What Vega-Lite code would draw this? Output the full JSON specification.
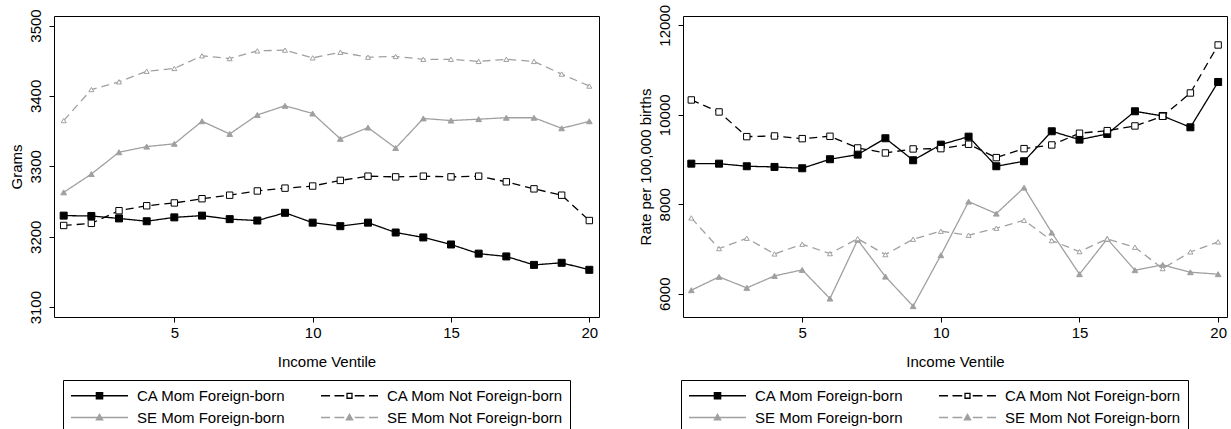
{
  "$schema": "https://vega.github.io/schema/vega-lite/v6.json",
  "padding": {"left": 8, "top": 3, "right": 4, "bottom": 0},
  "background": "white",
  "config": {
    "font": "Liberation Sans",
    "view": {"stroke": "#000", "strokeWidth": 1},
    "axis": {"labelFont": "Liberation Sans", "titleFont": "Liberation Sans", "labelFontSize": 15, "titleFontSize": 15, "titleFontWeight": "normal", "labelColor": "#000", "titleColor": "#000", "tickColor": "#000", "tickSize": 5, "tickWidth": 1, "grid": false, "domain": false, "labelFlush": false},
    "axisX": {"labelPadding": 3, "titlePadding": 14},
    "axisY": {"labelAngle": 270, "labelAlign": "center", "labelBaseline": "bottom", "labelPadding": 6, "titlePadding": 4},
    "legend": {"orient": "none", "direction": "horizontal", "columns": 2, "symbolType": "stroke", "symbolSize": 225, "symbolOffset": 21, "symbolStrokeWidth": 1.3, "labelFontSize": 15, "labelFont": "Liberation Sans", "labelColor": "#000", "labelOffset": 29, "labelLimit": 400, "columnPadding": 32, "rowPadding": 5, "padding": 7, "strokeColor": "#000"}
  },
  "datasets": {
    "w": [
      {"v": 1, "CA Mom Foreign-born": 3230, "CA Mom Not Foreign-born": 3216, "SE Mom Foreign-born": 3263, "SE Mom Not Foreign-born": 3365},
      {"v": 2, "CA Mom Foreign-born": 3229.5, "CA Mom Not Foreign-born": 3219, "SE Mom Foreign-born": 3289, "SE Mom Not Foreign-born": 3409},
      {"v": 3, "CA Mom Foreign-born": 3226, "CA Mom Not Foreign-born": 3237, "SE Mom Foreign-born": 3320, "SE Mom Not Foreign-born": 3420},
      {"v": 4, "CA Mom Foreign-born": 3222, "CA Mom Not Foreign-born": 3244, "SE Mom Foreign-born": 3328, "SE Mom Not Foreign-born": 3435},
      {"v": 5, "CA Mom Foreign-born": 3227.5, "CA Mom Not Foreign-born": 3248, "SE Mom Foreign-born": 3332, "SE Mom Not Foreign-born": 3439},
      {"v": 6, "CA Mom Foreign-born": 3230, "CA Mom Not Foreign-born": 3254, "SE Mom Foreign-born": 3364, "SE Mom Not Foreign-born": 3457},
      {"v": 7, "CA Mom Foreign-born": 3225, "CA Mom Not Foreign-born": 3259, "SE Mom Foreign-born": 3346, "SE Mom Not Foreign-born": 3453},
      {"v": 8, "CA Mom Foreign-born": 3223, "CA Mom Not Foreign-born": 3265, "SE Mom Foreign-born": 3373, "SE Mom Not Foreign-born": 3464},
      {"v": 9, "CA Mom Foreign-born": 3234, "CA Mom Not Foreign-born": 3269, "SE Mom Foreign-born": 3386, "SE Mom Not Foreign-born": 3465},
      {"v": 10, "CA Mom Foreign-born": 3220, "CA Mom Not Foreign-born": 3272, "SE Mom Foreign-born": 3375, "SE Mom Not Foreign-born": 3454},
      {"v": 11, "CA Mom Foreign-born": 3215, "CA Mom Not Foreign-born": 3280, "SE Mom Foreign-born": 3339, "SE Mom Not Foreign-born": 3462},
      {"v": 12, "CA Mom Foreign-born": 3220, "CA Mom Not Foreign-born": 3286, "SE Mom Foreign-born": 3355, "SE Mom Not Foreign-born": 3455},
      {"v": 13, "CA Mom Foreign-born": 3206, "CA Mom Not Foreign-born": 3285, "SE Mom Foreign-born": 3326, "SE Mom Not Foreign-born": 3456},
      {"v": 14, "CA Mom Foreign-born": 3199, "CA Mom Not Foreign-born": 3286, "SE Mom Foreign-born": 3368, "SE Mom Not Foreign-born": 3452},
      {"v": 15, "CA Mom Foreign-born": 3189, "CA Mom Not Foreign-born": 3285, "SE Mom Foreign-born": 3365, "SE Mom Not Foreign-born": 3452},
      {"v": 16, "CA Mom Foreign-born": 3176, "CA Mom Not Foreign-born": 3286, "SE Mom Foreign-born": 3367, "SE Mom Not Foreign-born": 3449},
      {"v": 17, "CA Mom Foreign-born": 3172, "CA Mom Not Foreign-born": 3278, "SE Mom Foreign-born": 3369, "SE Mom Not Foreign-born": 3452},
      {"v": 18, "CA Mom Foreign-born": 3160, "CA Mom Not Foreign-born": 3268, "SE Mom Foreign-born": 3369, "SE Mom Not Foreign-born": 3449},
      {"v": 19, "CA Mom Foreign-born": 3163, "CA Mom Not Foreign-born": 3259, "SE Mom Foreign-born": 3354, "SE Mom Not Foreign-born": 3431},
      {"v": 20, "CA Mom Foreign-born": 3153, "CA Mom Not Foreign-born": 3223, "SE Mom Foreign-born": 3364, "SE Mom Not Foreign-born": 3414}
    ],
    "r": [
      {"v": 1, "CA Mom Foreign-born": 8907, "CA Mom Not Foreign-born": 10331, "SE Mom Foreign-born": 6078, "SE Mom Not Foreign-born": 7694},
      {"v": 2, "CA Mom Foreign-born": 8907, "CA Mom Not Foreign-born": 10063, "SE Mom Foreign-born": 6376, "SE Mom Not Foreign-born": 7008},
      {"v": 3, "CA Mom Foreign-born": 8849, "CA Mom Not Foreign-born": 9511, "SE Mom Foreign-born": 6130, "SE Mom Not Foreign-born": 7240},
      {"v": 4, "CA Mom Foreign-born": 8834, "CA Mom Not Foreign-born": 9526, "SE Mom Foreign-born": 6398, "SE Mom Not Foreign-born": 6889},
      {"v": 5, "CA Mom Foreign-born": 8804, "CA Mom Not Foreign-born": 9466, "SE Mom Foreign-born": 6532, "SE Mom Not Foreign-born": 7106},
      {"v": 6, "CA Mom Foreign-born": 9006, "CA Mom Not Foreign-born": 9519, "SE Mom Foreign-born": 5891, "SE Mom Not Foreign-born": 6896},
      {"v": 7, "CA Mom Foreign-born": 9109, "CA Mom Not Foreign-born": 9258, "SE Mom Foreign-born": 7202, "SE Mom Not Foreign-born": 7231},
      {"v": 8, "CA Mom Foreign-born": 9475, "CA Mom Not Foreign-born": 9146, "SE Mom Foreign-born": 6382, "SE Mom Not Foreign-born": 6874},
      {"v": 9, "CA Mom Foreign-born": 8983, "CA Mom Not Foreign-born": 9236, "SE Mom Foreign-born": 5721, "SE Mom Not Foreign-born": 7218},
      {"v": 10, "CA Mom Foreign-born": 9332, "CA Mom Not Foreign-born": 9243, "SE Mom Foreign-born": 6860, "SE Mom Not Foreign-born": 7397},
      {"v": 11, "CA Mom Foreign-born": 9511, "CA Mom Not Foreign-born": 9341, "SE Mom Foreign-born": 8058, "SE Mom Not Foreign-born": 7307},
      {"v": 12, "CA Mom Foreign-born": 8849, "CA Mom Not Foreign-born": 9042, "SE Mom Foreign-born": 7790, "SE Mom Not Foreign-born": 7464},
      {"v": 13, "CA Mom Foreign-born": 8961, "CA Mom Not Foreign-born": 9243, "SE Mom Foreign-born": 8371, "SE Mom Not Foreign-born": 7642},
      {"v": 14, "CA Mom Foreign-born": 9631, "CA Mom Not Foreign-born": 9325, "SE Mom Foreign-born": 7365, "SE Mom Not Foreign-born": 7187},
      {"v": 15, "CA Mom Foreign-born": 9444, "CA Mom Not Foreign-born": 9587, "SE Mom Foreign-born": 6436, "SE Mom Not Foreign-born": 6941},
      {"v": 16, "CA Mom Foreign-born": 9571, "CA Mom Not Foreign-born": 9645, "SE Mom Foreign-born": 7225, "SE Mom Not Foreign-born": 7225},
      {"v": 17, "CA Mom Foreign-born": 10078, "CA Mom Not Foreign-born": 9750, "SE Mom Foreign-born": 6525, "SE Mom Not Foreign-born": 7039},
      {"v": 18, "CA Mom Foreign-born": 9973, "CA Mom Not Foreign-born": 9966, "SE Mom Foreign-born": 6644, "SE Mom Not Foreign-born": 6561},
      {"v": 19, "CA Mom Foreign-born": 9720, "CA Mom Not Foreign-born": 10487, "SE Mom Foreign-born": 6480, "SE Mom Not Foreign-born": 6934},
      {"v": 20, "CA Mom Foreign-born": 10733, "CA Mom Not Foreign-born": 11560, "SE Mom Foreign-born": 6436, "SE Mom Not Foreign-born": 7158}
    ]
  },
  "spacing": 37,
  "resolve": {"scale": {"y": "independent"}, "legend": {"color": "independent"}, "axis": {"y": "independent"}},
  "hconcat": [
    {
      "width": 545,
      "height": 301,
      "data": {"name": "w"},
      "transform": [{"fold": ["CA Mom Foreign-born", "CA Mom Not Foreign-born", "SE Mom Foreign-born", "SE Mom Not Foreign-born"], "as": ["s", "y"]}],
      "encoding": {
        "x": {"field": "v", "type": "quantitative", "scale": {"domain": [0.65, 20.35], "nice": false, "zero": false}, "axis": {"values": [5, 10, 15, 20], "title": "Income Ventile"}},
        "y": {"field": "y", "type": "quantitative", "scale": {"domain": [3086, 3513.5], "nice": false, "zero": false}, "axis": {"values": [3100, 3200, 3300, 3400, 3500], "format": "d", "title": "Grams"}}
      },
      "layer": [
        {
          "mark": {"type": "line", "strokeWidth": 1.3},
          "encoding": {
            "color": {"field": "s", "type": "nominal", "scale": {"domain": ["CA Mom Foreign-born", "CA Mom Not Foreign-born", "SE Mom Foreign-born", "SE Mom Not Foreign-born"], "range": ["#000000", "#000000", "#a0a0a0", "#a0a0a0"]},
              "legend": {"orient": "none", "legendX": 9, "legendY": 364, "direction": "horizontal", "columns": 2, "title": null,
                "encode": {"symbols": {"update": {
                  "shape": {"signal": "datum.value == 'CA Mom Foreign-born' ? 'M-3.8,0H3.8M-0.42,-0.42H0.42V0.42H-0.42Z' : datum.value == 'CA Mom Not Foreign-born' ? 'M-3.8,0H-2.6M-2,0H-0.7M0.7,0H2M2.6,0H3.8M-0.33,-0.33H0.33V0.33H-0.33Z' : datum.value == 'SE Mom Foreign-born' ? 'M-3.8,0H3.8M0,-0.42L0.42,0.3L-0.42,0.3Z' : 'M-3.8,0H-2.6M-2,0H-0.7M0.7,0H2M2.6,0H3.8M0,-0.42L0.42,0.3L-0.42,0.3Z'"},
                  "fill": {"signal": "datum.value == 'CA Mom Foreign-born' ? '#000000' : datum.value == 'CA Mom Not Foreign-born' ? '#ffffff' : '#a0a0a0'"},
                  "fillOpacity": {"value": 1},
                  "opacity": {"value": 1}
                }}}
              }},
            "strokeDash": {"field": "s", "type": "nominal", "scale": {"domain": ["CA Mom Foreign-born", "CA Mom Not Foreign-born", "SE Mom Foreign-born", "SE Mom Not Foreign-born"], "range": [[1, 0], [8, 5], [1, 0], [8, 5]]}, "legend": null}
          }
        },
        {
          "mark": {"type": "point", "opacity": 1, "strokeWidth": 1},
          "encoding": {
            "shape": {"field": "s", "type": "nominal", "scale": {"domain": ["CA Mom Foreign-born", "CA Mom Not Foreign-born", "SE Mom Foreign-born", "SE Mom Not Foreign-born"], "range": ["square", "square", "triangle-up", "triangle-up"]}, "legend": null},
            "fill": {"field": "s", "type": "nominal", "scale": {"domain": ["CA Mom Foreign-born", "CA Mom Not Foreign-born", "SE Mom Foreign-born", "SE Mom Not Foreign-born"], "range": ["#000000", "#ffffff", "#a0a0a0", "#ffffff"]}, "legend": null},
            "stroke": {"field": "s", "type": "nominal", "scale": {"domain": ["CA Mom Foreign-born", "CA Mom Not Foreign-born", "SE Mom Foreign-born", "SE Mom Not Foreign-born"], "range": ["#000000", "#000000", "#a0a0a0", "#a0a0a0"]}, "legend": null},
            "size": {"field": "s", "type": "ordinal", "scale": {"domain": ["CA Mom Foreign-born", "CA Mom Not Foreign-born", "SE Mom Foreign-born", "SE Mom Not Foreign-born"], "range": [49, 25, 55, 50]}, "legend": null}
          }
        }
      ]
    },
    {
      "width": 544,
      "height": 301,
      "data": {"name": "r"},
      "transform": [{"fold": ["CA Mom Foreign-born", "CA Mom Not Foreign-born", "SE Mom Foreign-born", "SE Mom Not Foreign-born"], "as": ["s", "y"]}],
      "encoding": {
        "x": {"field": "v", "type": "quantitative", "scale": {"domain": [0.7, 20.32], "nice": false, "zero": false}, "axis": {"values": [5, 10, 15, 20], "title": "Income Ventile"}},
        "y": {"field": "y", "type": "quantitative", "scale": {"domain": [5479, 12208], "nice": false, "zero": false}, "axis": {"values": [6000, 8000, 10000, 12000], "format": "d", "title": "Rate per 100,000 births"}}
      },
      "layer": [
        {
          "mark": {"type": "line", "strokeWidth": 1.3},
          "encoding": {
            "color": {"field": "s", "type": "nominal", "scale": {"domain": ["CA Mom Foreign-born", "CA Mom Not Foreign-born", "SE Mom Foreign-born", "SE Mom Not Foreign-born"], "range": ["#000000", "#000000", "#a0a0a0", "#a0a0a0"]},
              "legend": {"orient": "none", "legendX": -2, "legendY": 364, "direction": "horizontal", "columns": 2, "title": null,
                "encode": {"symbols": {"update": {
                  "shape": {"signal": "datum.value == 'CA Mom Foreign-born' ? 'M-3.8,0H3.8M-0.42,-0.42H0.42V0.42H-0.42Z' : datum.value == 'CA Mom Not Foreign-born' ? 'M-3.8,0H-2.6M-2,0H-0.7M0.7,0H2M2.6,0H3.8M-0.33,-0.33H0.33V0.33H-0.33Z' : datum.value == 'SE Mom Foreign-born' ? 'M-3.8,0H3.8M0,-0.42L0.42,0.3L-0.42,0.3Z' : 'M-3.8,0H-2.6M-2,0H-0.7M0.7,0H2M2.6,0H3.8M0,-0.42L0.42,0.3L-0.42,0.3Z'"},
                  "fill": {"signal": "datum.value == 'CA Mom Foreign-born' ? '#000000' : datum.value == 'CA Mom Not Foreign-born' ? '#ffffff' : '#a0a0a0'"},
                  "fillOpacity": {"value": 1},
                  "opacity": {"value": 1}
                }}}
              }},
            "strokeDash": {"field": "s", "type": "nominal", "scale": {"domain": ["CA Mom Foreign-born", "CA Mom Not Foreign-born", "SE Mom Foreign-born", "SE Mom Not Foreign-born"], "range": [[1, 0], [8, 5], [1, 0], [8, 5]]}, "legend": null}
          }
        },
        {
          "mark": {"type": "point", "opacity": 1, "strokeWidth": 1},
          "encoding": {
            "shape": {"field": "s", "type": "nominal", "scale": {"domain": ["CA Mom Foreign-born", "CA Mom Not Foreign-born", "SE Mom Foreign-born", "SE Mom Not Foreign-born"], "range": ["square", "square", "triangle-up", "triangle-up"]}, "legend": null},
            "fill": {"field": "s", "type": "nominal", "scale": {"domain": ["CA Mom Foreign-born", "CA Mom Not Foreign-born", "SE Mom Foreign-born", "SE Mom Not Foreign-born"], "range": ["#000000", "#ffffff", "#a0a0a0", "#ffffff"]}, "legend": null},
            "stroke": {"field": "s", "type": "nominal", "scale": {"domain": ["CA Mom Foreign-born", "CA Mom Not Foreign-born", "SE Mom Foreign-born", "SE Mom Not Foreign-born"], "range": ["#000000", "#000000", "#a0a0a0", "#a0a0a0"]}, "legend": null},
            "size": {"field": "s", "type": "ordinal", "scale": {"domain": ["CA Mom Foreign-born", "CA Mom Not Foreign-born", "SE Mom Foreign-born", "SE Mom Not Foreign-born"], "range": [49, 25, 55, 50]}, "legend": null}
          }
        }
      ]
    }
  ]
}
